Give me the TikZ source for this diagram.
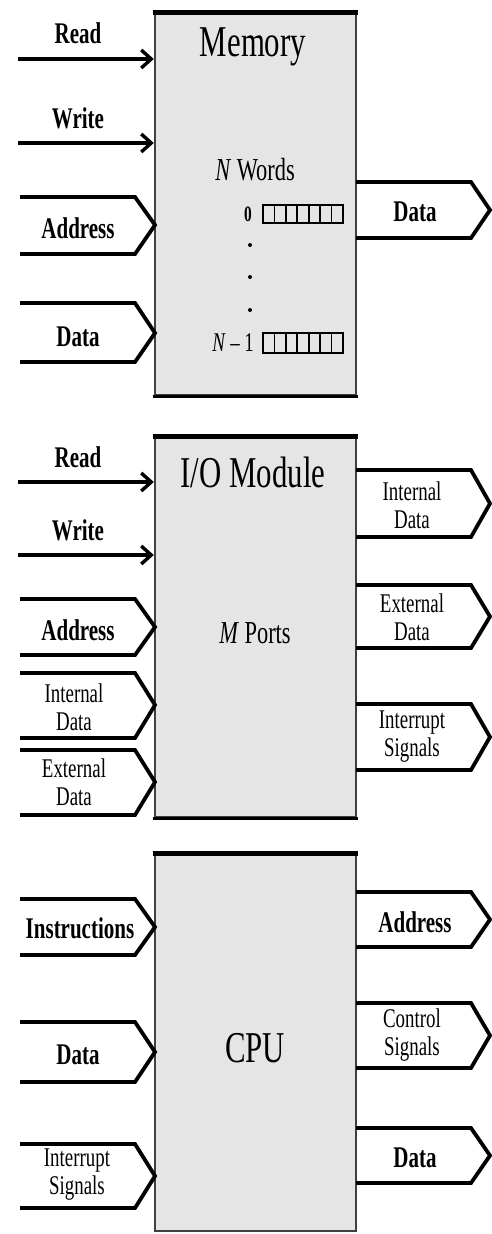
\documentclass[tikz,border=0pt]{standalone}
\usepackage{fontspec}
\setmainfont{Liberation Serif}[FakeStretch=0.7]
\usetikzlibrary{arrows.meta}
\tikzset{
  modbox/.style={draw=black!75, line width=2.4pt, fill=black!10},
  bus/.style={draw=black, line width=3.8pt, line join=miter},
  sig/.style={draw=black, line width=3.8pt, -{Straight Barb[length=10pt,width=18pt,line width=3.4pt]}},
  title/.style={font=\fontsize{44}{48}\selectfont, inner sep=0pt},
  lbl/.style={font=\bfseries\fontsize{30}{32}\selectfont, inner sep=0pt},
  slbl/.style={font=\fontsize{27}{28}\selectfont, inner sep=0pt, align=center},
  ital/.style={font=\fontsize{32}{34}\selectfont, inner sep=0pt},
  reg/.style={draw=black, line width=1.8pt}
}
\newcommand\rightbus[2]{%
  \draw[bus] (356,#1) -- (471,#1) -- (490,{(#1+#2)/2}) -- (471,#2) -- (356,#2);}
\newcommand\regcells[2]{%
  \draw[reg] (263,#1) rectangle (343,#2);
  \foreach \i in {1,...,6} {\draw[reg] ({263+\i*80/7},#1) -- ({263+\i*80/7},#2);}}
\begin{document}
\begin{tikzpicture}[x=1pt,y=-1pt]
\useasboundingbox (0,0) rectangle (492,1234);
\fill[white] (0,0) rectangle (492,1234);

% ---------------- Memory ----------------
\node[modbox, minimum width=201pt, minimum height=381pt, inner sep=0pt] (mem) at (255.5,204.5) {};
\draw[line width=5pt] ([xshift=-1.2pt]mem.north west) -- ([xshift=1.2pt]mem.north east);
\draw[line width=3.2pt] ([xshift=-1.2pt]mem.south west) -- ([xshift=1.2pt]mem.south east);
\node[title] (memt) at (253,47) {Memory};
\node[ital] (nw) at (255,170) {\textit{N} Words};
\regcells{205}{223}
\node[font=\bfseries\fontsize{22}{24}\selectfont, inner sep=0pt] (r0) at (248,214) {0};
\fill (250,245) circle (2pt) (250,277) circle (2pt) (250,310) circle (2pt);
\regcells{333}{353}
\node[font=\fontsize{27}{28}\selectfont, inner sep=0pt, anchor=east] (rn) at (254,343) {\textit{N}\,–\,1};

\coordinate (mr1) at (18,59);
\coordinate (mw1) at (18,143);
\draw[sig] (mr1) -- (mr1 -| mem.west);
\draw[sig] (mw1) -- (mw1 -| mem.west);
\node[lbl] (mrl) at (78,33) {Read};
\node[lbl] (mwl) at (78,118) {Write};
\draw[bus] (20,197) -- (135,197) -- (155,225) -- (135,254) -- (20,254);
\node[lbl] (mal) at (78,228) {Address};
\draw[bus] (20,303) -- (135,303) -- (155,333) -- (135,362) -- (20,362);
\node[lbl] (mdl) at (78,337) {Data};
\rightbus{182}{238}
\node[lbl] (mdo) at (415,212) {Data};

% ---------------- I/O Module ----------------
\node[modbox, minimum width=201pt, minimum height=379pt, inner sep=0pt] (io) at (255.5,627.5) {};
\draw[line width=5pt] ([xshift=-1.2pt]io.north west) -- ([xshift=1.2pt]io.north east);
\draw[line width=3.2pt] ([xshift=-1.2pt]io.south west) -- ([xshift=1.2pt]io.south east);
\node[title] (iot) at (253,472) {I/O Module};
\node[ital] (mp) at (255,633) {\textit{M} Ports};

\coordinate (ir1) at (18,482);
\coordinate (iw1) at (18,555);
\draw[sig] (ir1) -- (ir1 -| io.west);
\draw[sig] (iw1) -- (iw1 -| io.west);
\node[lbl] (irl) at (78,457) {Read};
\node[lbl] (iwl) at (78,530) {Write};
\draw[bus] (20,599) -- (135,599) -- (155,627) -- (135,655) -- (20,655);
\node[lbl] (ial) at (78,630) {Address};
\draw[bus] (20,673) -- (135,673) -- (155,705) -- (135,738) -- (20,738);
\node[slbl] (iil) at (74,707) {Internal\\Data};
\draw[bus] (20,750) -- (135,750) -- (155,782) -- (135,815) -- (20,815);
\node[slbl] (iel) at (74,782) {External\\Data};
\rightbus{470}{537}
\node[slbl] (iio) at (412,505) {Internal\\Data};
\rightbus{585}{648}
\node[slbl] (ieo) at (412,617) {External\\Data};
\rightbus{704}{770}
\node[slbl] (iso) at (412,737) {Interrupt\\Signals};

% ---------------- CPU ----------------
\node[modbox, minimum width=201pt, minimum height=376pt, inner sep=0pt] (cpu) at (255.5,1043) {};
\draw[line width=5pt] ([xshift=-1.2pt]cpu.north west) -- ([xshift=1.2pt]cpu.north east);
\node[title] (cput) at (255,1048) {CPU};

\draw[bus] (20,899) -- (135,899) -- (155,927) -- (135,955) -- (20,955);
\node[lbl] (cil) at (80,928) {Instructions};
\draw[bus] (20,1022) -- (135,1022) -- (155,1052) -- (135,1082) -- (20,1082);
\node[lbl] (cdl) at (78,1055) {Data};
\draw[bus] (20,1144) -- (135,1144) -- (155,1176) -- (135,1208) -- (20,1208);
\node[slbl] (csl) at (77,1175) {Interrupt\\Signals};
\rightbus{892}{947}
\node[lbl] (cao) at (415,922) {Address};
\rightbus{1003}{1068}
\node[slbl] (cco) at (412,1035) {Control\\Signals};
\rightbus{1128}{1183}
\node[lbl] (cdo) at (415,1158) {Data};
\end{tikzpicture}
\end{document}
